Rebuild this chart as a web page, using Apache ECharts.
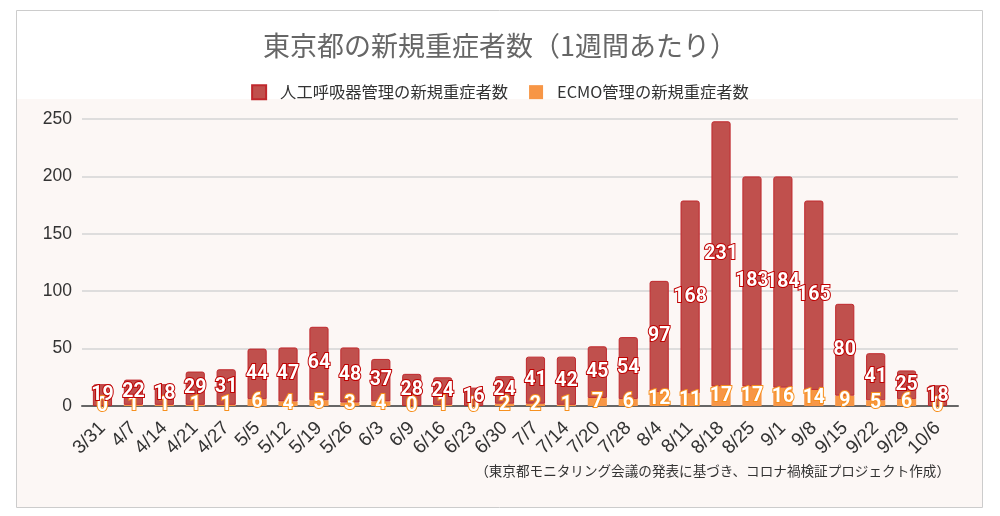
<!DOCTYPE html>
<html>
<head>
<meta charset="utf-8">
<script src="https://cdn.jsdelivr.net/npm/echarts@6/dist/echarts.min.js"></script>
<style>
html,body{margin:0;padding:0;background:#fff;}
#main{width:1000px;height:516px;}
</style>
</head>
<body>
<div id="main"></div>
<script>
var categories = ['3/31','4/7','4/14','4/21','4/27','5/5','5/12','5/19','5/26','6/3','6/9','6/16','6/23','6/30','7/7','7/14','7/20','7/28','8/4','8/11','8/18','8/25','9/1','9/8','9/15','9/22','9/29','10/6'];
var ventilator = [19,22,18,29,31,44,47,64,48,37,28,24,16,24,41,42,45,54,97,168,231,183,184,165,80,41,25,18];
var ecmo = [0,1,1,1,1,6,4,5,3,4,0,1,0,2,2,1,7,6,12,11,17,17,16,14,9,5,6,0];
var yTicks = [0,50,100,150,200,250];

var titleText = '東京都の新規重症者数（1週間あたり）';
var nameVent = '人工呼吸器管理の新規重症者数';
var nameEcmo = 'ECMO管理の新規重症者数';
var note = '（東京都モニタリング会議の発表に基づき、コロナ禍検証プロジェクト作成）';

var chart = echarts.init(document.getElementById('main'));
var cjk = '"Noto Sans CJK JP", "Noto Sans", sans-serif';
var latin = '"Liberation Sans", Arial, sans-serif';
var yMax = yTicks[yTicks.length-1];
var yInt = yTicks[1]-yTicks[0];

chart.setOption({
  backgroundColor: '#ffffff',
  animation: false,
  title: {
    text: titleText, left: 'center', top: 27,
    textStyle: {fontFamily: cjk, fontSize: 27, fontWeight: 'normal', color: '#666'}
  },
  legend: {
    data: [nameVent, nameEcmo], left: 'center', top: 79,
    itemWidth: 14, itemHeight: 14, itemGap: 21, icon: 'rect',
    textStyle: {fontFamily: cjk, fontSize: 16.3, color: '#333', padding: [0, 0, 0, 9]}
  },
  graphic: [
    {type: 'rect', z: -10, shape: {x: 16.5, y: 99, width: 966, height: 408}, style: {fill: '#fcf7f5'}},
    {type: 'rect', z: -9, shape: {x: 16.5, y: 10.5, width: 966, height: 497}, style: {fill: 'none', stroke: '#cccccc', lineWidth: 1}},
    {type: 'text', right: 50, top: 464, style: {text: note, fontFamily: cjk, fontSize: 13.6, fill: '#333'}}
  ],
  grid: [
    {left: 87, right: 47, top: 119, bottom: 110},
    {left: 82, right: 42, top: 119, bottom: 110}
  ],
  xAxis: [
    {type: 'category', gridIndex: 0, data: categories,
     axisLine: {show: false}, axisTick: {show: false},
     axisLabel: {rotate: 45, fontFamily: latin, fontSize: 19, color: '#333', margin: 19, interval: 0}},
    {type: 'value', gridIndex: 1, min: 0, max: 1, show: true,
     axisLine: {show: true, lineStyle: {color: '#666', width: 2}},
     axisTick: {show: false}, axisLabel: {show: false}, splitLine: {show: false}}
  ],
  yAxis: [
    {type: 'value', gridIndex: 0, min: 0, max: yMax, interval: yInt,
     axisLabel: {show: false}, axisLine: {show: false}, axisTick: {show: false}, splitLine: {show: false}},
    {type: 'value', gridIndex: 1, min: 0, max: yMax, interval: yInt,
     axisLabel: {fontFamily: latin, fontSize: 17.5, color: '#333', margin: 10},
     axisLine: {show: false}, axisTick: {show: false},
     splitLine: {show: true, lineStyle: {color: '#d4d4d4', width: 1.5}}}
  ],
  series: [
    {name: nameEcmo, type: 'bar', stack: 'a', data: ecmo, xAxisIndex: 0, yAxisIndex: 0,
     barWidth: '62%',
     itemStyle: {color: '#f79646'},
     label: {show: true, position: 'inside', color: '#fff', fontFamily: 'Roboto, sans-serif', fontWeight: 'bold', fontSize: 19.5,
             textBorderColor: '#f7901e', textBorderWidth: 2}},
    {name: nameVent, type: 'bar', stack: 'a', data: ventilator, xAxisIndex: 0, yAxisIndex: 0,
     barWidth: '62%',
     itemStyle: {color: '#c0504d', borderColor: '#c0282d', borderWidth: 1, borderRadius: [2,2,0,0]},
     label: {show: true, position: 'inside', color: '#fff', fontFamily: 'Roboto, sans-serif', fontWeight: 'bold', fontSize: 19.5,
             textBorderColor: '#c00000', textBorderWidth: 2}}
  ]
});
</script>
</body>
</html>
